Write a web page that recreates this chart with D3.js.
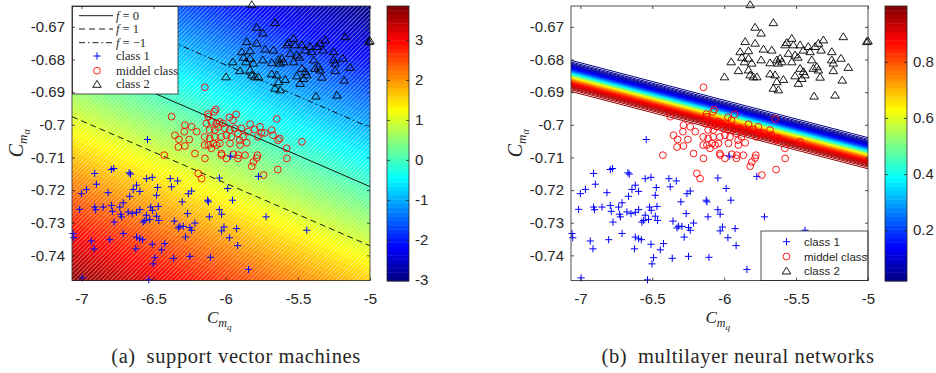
<!DOCTYPE html>
<html>
<head>
<meta charset="utf-8">
<script src="https://cdn.jsdelivr.net/npm/d3@7"></script>
<style>
body { margin: 0; background: #fff; }
svg text { font-family: "Liberation Sans", Arial, sans-serif; fill: #262626; }
.serif { font-family: "Liberation Serif", "Times New Roman", serif; }
.caption { font-family: "Liberation Serif", "Times New Roman", serif; letter-spacing: 0.6px; }
</style>
</head>
<body>
<svg id="fig" width="936" height="373"></svg>
<script>
// ---- data (C_mq, C_malpha) ----
var class1 = [
  [-6.542,-0.7045],[-6.908,-0.7149],[-6.896,-0.7182],[-6.792,-0.7137],[-6.776,-0.7134],[-6.669,-0.7147],[-6.660,-0.7151],[-7.000,-0.7211],[-6.965,-0.7198],[-6.815,-0.7208],
  [-7.012,-0.7259],[-6.908,-0.7252],[-6.901,-0.7260],[-6.849,-0.7252],[-6.792,-0.7247],[-6.785,-0.7265],[-6.773,-0.7298],[-6.734,-0.7252],[-6.710,-0.7239],[-6.727,-0.7274],
  [-6.722,-0.7282],[-6.676,-0.7267],[-6.648,-0.7272],[-6.618,-0.7268],[-6.595,-0.7260],[-6.665,-0.7219],[-6.641,-0.7198],[-6.618,-0.7185],[-6.595,-0.7204],[-6.549,-0.7165],
  [-6.509,-0.7161],[-6.472,-0.7192],[-6.479,-0.7216],[-6.467,-0.7250],[-6.519,-0.7252],[-6.507,-0.7262],[-6.549,-0.7277],[-6.526,-0.7290],[-6.560,-0.7293],[-6.572,-0.7298],
  [-6.479,-0.7280],[-6.463,-0.7293],[-6.384,-0.7165],[-6.333,-0.7172],[-6.375,-0.7190],[-6.301,-0.7236],[-6.259,-0.7211],[-6.236,-0.7203],[-6.264,-0.7272],[-6.356,-0.7295],
  [-6.328,-0.7316],[-6.317,-0.7311],[-6.294,-0.7311],[-6.248,-0.7315],[-6.236,-0.7323],[-6.213,-0.7301],[-6.278,-0.7344],[-6.125,-0.7231],[-6.120,-0.7236],[-6.113,-0.7282],
  [-6.044,-0.7163],[-6.044,-0.7260],[-7.058,-0.7333],[-7.053,-0.7346],[-6.931,-0.7356],[-6.912,-0.7380],[-6.803,-0.7352],[-6.710,-0.7333],[-6.618,-0.7344],[-6.595,-0.7349],
  [-6.576,-0.7352],[-6.623,-0.7380],[-6.509,-0.7366],[-6.422,-0.7364],[-6.444,-0.7383],[-6.491,-0.7407],[-6.502,-0.7426],[-6.361,-0.7409],[-6.248,-0.7403],[-6.106,-0.7406],
  [-6.995,-0.7469],[-6.533,-0.7475],[-5.965,-0.7096],[-5.773,-0.7158],[-5.986,-0.7195],[-5.953,-0.7231],[-6.028,-0.7274],[-5.720,-0.7282],[-6.012,-0.7313],[-6.028,-0.7325],
  [-5.924,-0.7318],[-5.974,-0.7346],[-5.917,-0.7370],[-5.842,-0.7443],[-5.438,-0.7323]
];
var middelClass = [
  [-6.144,-0.6885],[-6.375,-0.6975],[-6.069,-0.6953],[-6.078,-0.6960],[-5.928,-0.6968],[-5.974,-0.6977],[-5.646,-0.6982],[-5.831,-0.6998],[-5.762,-0.7006],[-5.681,-0.7016],
  [-5.472,-0.7052],[-6.028,-0.7093],[-5.947,-0.7090],[-5.912,-0.7093],[-5.866,-0.7093],[-5.780,-0.7093],[-5.785,-0.7102],[-5.808,-0.7114],[-5.819,-0.7127],[-5.738,-0.7154],
  [-5.639,-0.7137],[-5.576,-0.7103],[-6.040,-0.7057],[-5.970,-0.7057],[-5.901,-0.7062],[-5.854,-0.7055],[-6.426,-0.7093],[-6.328,-0.7068],[-6.283,-0.7065],[-6.213,-0.7088],
  [-6.144,-0.7103],[-6.190,-0.7149],[-6.167,-0.7165],[-6.120,-0.7062],[-6.085,-0.7057],[-6.352,-0.7032],[-6.324,-0.7045],[-6.287,-0.7021],[-6.252,-0.7045],[-6.201,-0.7021],
  [-6.283,-0.7001],[-6.236,-0.7006],[-6.120,-0.6975],[-6.123,-0.6967],[-6.134,-0.6996],[-6.099,-0.6991],[-6.065,-0.6996],[-6.042,-0.6991],[-6.019,-0.6996],[-5.949,-0.6986],
  [-6.111,-0.7016],[-6.076,-0.7016],[-6.053,-0.7006],[-6.007,-0.7011],[-5.972,-0.7016],[-5.938,-0.7011],[-5.891,-0.7011],[-5.845,-0.7021],[-5.799,-0.7014],[-5.752,-0.7025],
  [-5.729,-0.7025],[-5.672,-0.7032],[-5.637,-0.7047],[-5.625,-0.7042],[-6.146,-0.7037],[-6.111,-0.7042],[-6.076,-0.7037],[-6.030,-0.7037],[-5.995,-0.7032],[-5.960,-0.7037],
  [-5.915,-0.7026],[-5.880,-0.7037],[-5.776,-0.7037],[-6.146,-0.7062],[-6.099,-0.7072],[-5.903,-0.7047],[-6.030,-0.7088],[-5.995,-0.7103],[-5.915,-0.7103],[-5.578,-0.7072],
  [-6.063,-0.7062]
];
var class2 = [
  [-5.819,-0.6632],[-5.785,-0.6701],[-5.658,-0.6687],[-5.743,-0.6719],[-5.854,-0.6745],[-5.785,-0.6750],[-5.889,-0.6776],[-5.831,-0.6773],[-5.727,-0.6768],[-5.669,-0.6771],
  [-5.877,-0.6793],[-5.831,-0.6796],[-5.808,-0.6811],[-5.951,-0.6807],[-5.859,-0.6807],[-5.743,-0.6801],[-5.681,-0.6810],[-5.634,-0.6801],[-5.611,-0.6796],[-5.599,-0.6807],
  [-5.623,-0.6811],[-5.901,-0.6834],[-5.831,-0.6832],[-5.819,-0.6847],[-5.797,-0.6853],[-5.773,-0.6853],[-5.998,-0.6853],[-5.681,-0.6844],[-5.646,-0.6847],[-5.634,-0.6868],
  [-5.658,-0.6888],[-5.623,-0.6893],[-5.588,-0.6861],[-5.576,-0.6755],[-5.565,-0.6748],[-5.530,-0.6735],[-5.519,-0.6755],[-5.553,-0.6781],[-5.530,-0.6807],[-5.507,-0.6786],
  [-5.488,-0.6793],[-5.472,-0.6755],[-5.449,-0.6771],[-5.472,-0.6827],[-5.449,-0.6837],[-5.438,-0.6847],[-5.460,-0.6858],[-5.507,-0.6850],[-5.484,-0.6873],[-5.415,-0.6760],
  [-5.403,-0.6776],[-5.391,-0.6801],[-5.368,-0.6760],[-5.345,-0.6750],[-5.326,-0.6771],[-5.310,-0.6740],[-5.380,-0.6827],[-5.356,-0.6822],[-5.345,-0.6832],[-5.333,-0.6854],
  [-5.375,-0.6912],[-5.252,-0.6776],[-5.252,-0.6801],[-5.241,-0.6811],[-5.188,-0.6796],[-5.241,-0.6834],[-5.229,-0.6909],[-5.172,-0.6730],[-5.137,-0.6824],[-5.179,-0.6863],
  [-5.009,-0.6745],[-5.000,-0.6743]
];

var xDomain = [-7.065, -5];
var yDomain = [-0.7477, -0.6636];
var xTicks = [-7, -6.5, -6, -5.5, -5];
var yTicks = [-0.67, -0.68, -0.69, -0.7, -0.71, -0.72, -0.73, -0.74];

// svm decision function f = (yRef(x) - y) / margin, lines at f = 0, 1, -1
var svmRef = { x: -6.25, y: -0.695, slope: -0.01915, margin: 0.01811 };
var svmLines = [0, 1, -1];
var svmLineLabels = ["= 0", "= 1", "= \u22121"];
var svmCbRange = [-3.03, 3.85];
var svmCbTicks = [-3, -2, -1, 0, 1, 2, 3];

// mlp output = sigmoid(gain * (yRef(x) - y))
var mlpRef = { x: -7.0625, y: -0.68504, slope: -0.01147, gain: 817 };
var mlpLevels = d3.range(2, 99).map(function(d) { return d / 100; });
var mlpCbRange = [0.018, 1.0];
var mlpCbTicks = [0.2, 0.4, 0.6, 0.8];

var classNames = ["class 1", "middel class", "class 2"];

function svmF(cx, cy) {
  return (svmRef.y + svmRef.slope * (cx - svmRef.x) - cy) / svmRef.margin;
}
function jet(t) {
  t = Math.max(0, Math.min(1, t));
  function c(v) { return Math.round(255 * Math.max(0, Math.min(1, v))); }
  return d3.rgb(c(1.5 - Math.abs(4 * t - 3)), c(1.5 - Math.abs(4 * t - 2)), c(1.5 - Math.abs(4 * t - 1))).toString();
}

var svg = d3.select("#fig");
var defs = svg.append("defs");

var hatch = defs.append("pattern")
    .attr("id", "hatch")
    .attr("patternUnits", "userSpaceOnUse")
    .attr("width", 3).attr("height", 3)
    .attr("patternTransform", "rotate(45)");
hatch.append("line")
    .attr("x1", 0.5).attr("y1", 0).attr("x2", 0.5).attr("y2", 3)
    .attr("stroke", "#fff").attr("stroke-width", 0.9).attr("stroke-opacity", 0.45);

var crossPath = "M-3.6,0H3.6M0,-3.6V3.6";
var triPath = "M0,-3.9L4.3,3L-4.3,3Z";

function makePanel(id, left, right) {
  var top = 6, bottom = 280.5;
  var p = {
    x: d3.scaleLinear().domain(xDomain).range([left, right]),
    y: d3.scaleLinear().domain(yDomain).range([bottom, top]),
    left: left, right: right, top: top, bottom: bottom
  };
  defs.append("clipPath").attr("id", "clip-" + id)
    .append("rect").attr("x", left).attr("y", top).attr("width", right - left).attr("height", bottom - top);
  p.g = svg.append("g");
  p.plot = p.g.append("g").attr("clip-path", "url(#clip-" + id + ")");
  return p;
}

function drawMarkers(p) {
  var m = p.g.append("g");
  m.selectAll(".mid").data(middelClass).enter().append("circle")
    .attr("cx", function(d) { return p.x(d[0]); })
    .attr("cy", function(d) { return p.y(d[1]); })
    .attr("r", 3.4)
    .attr("fill", "none").attr("stroke", "#ff0000").attr("stroke-width", 0.9);
  m.selectAll(".c1").data(class1).enter().append("path")
    .attr("d", crossPath)
    .attr("transform", function(d) { return "translate(" + p.x(d[0]) + "," + p.y(d[1]) + ")"; })
    .attr("fill", "none").attr("stroke", "#0000ff").attr("stroke-width", 1);
  m.selectAll(".c2").data(class2).enter().append("path")
    .attr("d", triPath)
    .attr("transform", function(d) { return "translate(" + p.x(d[0]) + "," + p.y(d[1]) + ")"; })
    .attr("fill", "none").attr("stroke", "#000").attr("stroke-width", 0.9);
}

function drawAxes(p) {
  var g = p.g;
  g.append("rect")
    .attr("x", p.left).attr("y", p.top)
    .attr("width", p.right - p.left).attr("height", p.bottom - p.top)
    .attr("fill", "none").attr("stroke", "#262626").attr("stroke-width", 0.8);

  g.append("g").attr("transform", "translate(0," + p.bottom + ")")
    .call(d3.axisBottom(p.x).tickValues(xTicks).tickSize(-3).tickPadding(13).tickFormat(function(d) { return String(d); }));
  g.append("g").attr("transform", "translate(0," + p.top + ")")
    .call(d3.axisTop(p.x).tickValues(xTicks).tickSize(-3).tickFormat(""));
  g.append("g").attr("transform", "translate(" + p.left + ",0)")
    .call(d3.axisLeft(p.y).tickValues(yTicks).tickSize(-3).tickPadding(7).tickFormat(function(d) { return String(d); }));
  g.append("g").attr("transform", "translate(" + p.right + ",0)")
    .call(d3.axisRight(p.y).tickValues(yTicks).tickSize(-3).tickFormat(""));
  g.selectAll(".domain").remove();
  g.selectAll(".tick line").attr("stroke", "#262626").attr("stroke-width", 0.8);
  g.selectAll(".tick text").attr("font-size", 15).attr("font-family", "Liberation Sans, Arial, sans-serif").attr("fill", "#262626");

  // axis labels C_{m_q} and C_{m_alpha}
  var cx = (p.left + p.right) / 2;
  var xl = g.append("text").attr("class", "serif")
    .attr("x", cx - 14).attr("y", 323)
    .attr("fill", "#555").attr("font-style", "italic").attr("font-size", 17);
  xl.append("tspan").text("C");
  xl.append("tspan").attr("dy", 4).attr("font-size", 12).text("m");
  xl.append("tspan").attr("dy", 3).attr("font-size", 9).text("q");

  var yl = g.append("text").attr("class", "serif")
    .attr("transform", "translate(" + (p.left - 49) + "," + ((p.top + p.bottom) / 2 + 14) + ") rotate(-90)")
    .attr("fill", "#555").attr("font-style", "italic").attr("font-size", 20);
  yl.append("tspan").text("C");
  yl.append("tspan").attr("dy", 4).attr("font-size", 13).text("m");
  yl.append("tspan").attr("dy", 3).attr("font-size", 10).text("\u03b1");
}

function drawColorbar(left, range, ticks) {
  var top = 6, bottom = 281, w = 22;
  var cy = d3.scaleLinear().domain(range).range([bottom, top]);
  var steps = d3.range(64);
  var g = svg.append("g");
  g.selectAll("rect.cb").data(steps).enter().append("rect")
    .attr("x", left)
    .attr("y", function(i) { return cy(range[0] + (i + 1) * (range[1] - range[0]) / 64); })
    .attr("width", w)
    .attr("height", (bottom - top) / 64 + 0.4)
    .attr("fill", function(i) { return jet((i + 0.5) / 64); });
  g.append("rect").attr("x", left).attr("y", top).attr("width", w).attr("height", bottom - top)
    .attr("fill", "none").attr("stroke", "#262626").attr("stroke-width", 0.8);
  var a = g.append("g").attr("transform", "translate(" + (left + w) + ",0)")
    .call(d3.axisRight(cy).tickValues(ticks).tickSize(-3).tickPadding(6).tickFormat(function(d) { return String(d); }));
  a.select(".domain").remove();
  a.selectAll(".tick line").attr("stroke", "#262626").attr("stroke-width", 0.8);
  a.selectAll(".tick text").attr("font-size", 15).attr("fill", "#262626");
  g.append("g").attr("transform", "translate(" + left + ",0)")
    .call(d3.axisLeft(cy).tickValues(ticks).tickSize(-3).tickFormat(""))
    .call(function(s) { s.select(".domain").remove(); s.selectAll(".tick line").attr("stroke", "#262626").attr("stroke-width", 0.8); });
}

// ---------------- (a) support vector machines ----------------
var pa = makePanel("a", 72, 370);

var nx = 120, ny = 110;
var gx = d3.scaleLinear().domain([0, nx - 1]).range(xDomain);
var gy = d3.scaleLinear().domain([0, ny - 1]).range([yDomain[1], yDomain[0]]);
var vals = new Array(nx * ny);
for (var j = 0; j < ny; j++) {
  for (var i = 0; i < nx; i++) {
    vals[j * nx + i] = svmF(gx(i), gy(j));
  }
}
var thr = d3.range(64).map(function(k) { return svmCbRange[0] + k * (svmCbRange[1] - svmCbRange[0]) / 64; });
var bands = d3.contours().size([nx, ny]).thresholds(thr)(vals);
var gridToPx = d3.geoTransform({
  point: function(px, py) { this.stream.point(pa.x(gx(px - 0.5)), pa.y(gy(py - 0.5))); }
});
pa.plot.append("rect").attr("x", pa.left).attr("y", pa.top)
  .attr("width", pa.right - pa.left).attr("height", pa.bottom - pa.top).attr("fill", jet(0));
pa.plot.selectAll("path.band").data(bands).enter().append("path")
  .attr("d", d3.geoPath(gridToPx))
  .attr("fill", function(d) { return jet((d.value - svmCbRange[0]) / (svmCbRange[1] - svmCbRange[0]) + 0.5 / 64); });
pa.plot.append("rect").attr("x", pa.left).attr("y", pa.top)
  .attr("width", pa.right - pa.left).attr("height", pa.bottom - pa.top).attr("fill", "url(#hatch)");

var dashes = { "0": null, "1": "6,4", "-1": "6,3,1.5,3" };
pa.plot.selectAll("line.svm").data(svmLines).enter().append("line")
  .attr("x1", pa.x(xDomain[0]))
  .attr("x2", pa.x(xDomain[1]))
  .attr("y1", function(f) { return pa.y(svmRef.y + svmRef.slope * (xDomain[0] - svmRef.x) - f * svmRef.margin); })
  .attr("y2", function(f) { return pa.y(svmRef.y + svmRef.slope * (xDomain[1] - svmRef.x) - f * svmRef.margin); })
  .attr("stroke", "#000").attr("stroke-width", 0.9)
  .attr("stroke-dasharray", function(f) { return dashes[String(f)]; });

drawMarkers(pa);

// legend (a)
var la = pa.g.append("g");
la.append("rect").attr("x", 72.5).attr("y", 6.5).attr("width", 105.5).attr("height", 87.5)
  .attr("fill", "#fff").attr("stroke", "#262626").attr("stroke-width", 0.8);
var rowsA = [15.7, 29, 42.7, 56, 70.7, 84.3];
svmLines.forEach(function(f, k) {
  la.append("line").attr("x1", 79).attr("x2", 113).attr("y1", rowsA[k]).attr("y2", rowsA[k])
    .attr("stroke", "#000").attr("stroke-width", 0.9).attr("stroke-dasharray", dashes[String(f)]);
  var t = la.append("text").attr("class", "serif").attr("x", 116).attr("y", rowsA[k] + 4)
    .attr("font-size", 12.5).attr("fill", "#222");
  t.append("tspan").attr("font-style", "italic").text("f");
  t.append("tspan").text(" " + svmLineLabels[k]);
});
la.append("path").attr("d", crossPath).attr("transform", "translate(97," + rowsA[3] + ")")
  .attr("fill", "none").attr("stroke", "#0000ff");
la.append("circle").attr("cx", 97).attr("cy", rowsA[4]).attr("r", 3.4)
  .attr("fill", "none").attr("stroke", "#ff0000").attr("stroke-width", 0.9);
la.append("path").attr("d", triPath).attr("transform", "translate(97," + rowsA[5] + ")")
  .attr("fill", "none").attr("stroke", "#000").attr("stroke-width", 0.9);
classNames.forEach(function(n, k) {
  la.append("text").attr("class", "serif").attr("x", 116).attr("y", rowsA[k + 3] + 4)
    .attr("font-size", 12.5).attr("fill", "#222").text(n);
});

drawAxes(pa);
drawColorbar(387, svmCbRange, svmCbTicks);

svg.append("text").attr("class", "caption").attr("x", 236).attr("y", 363)
  .attr("text-anchor", "middle").attr("font-size", 20.5).attr("fill", "#111")
  .text("(a)\u2002support vector machines");

// ---------------- (b) multilayer neural networks ----------------
var pb = makePanel("b", 571, 868);
var logit = function(L) { return Math.log(L / (1 - L)); };
var mlpLine = function(L, cx) { return mlpRef.y + mlpRef.slope * (cx - mlpRef.x) - logit(L) / mlpRef.gain; };
pb.plot.append("rect").attr("x", pb.left).attr("y", pb.top)
  .attr("width", pb.right - pb.left).attr("height", pb.bottom - pb.top).attr("fill", "#fff");
pb.plot.selectAll("line.lvl").data(mlpLevels).enter().append("line")
  .attr("x1", pb.x(xDomain[0]))
  .attr("x2", pb.x(xDomain[1]))
  .attr("y1", function(L) { return pb.y(mlpLine(L, xDomain[0])); })
  .attr("y2", function(L) { return pb.y(mlpLine(L, xDomain[1])); })
  .attr("stroke", function(L) { return jet((L - mlpCbRange[0]) / (mlpCbRange[1] - mlpCbRange[0])); })
  .attr("stroke-width", 1);

drawMarkers(pb);

// legend (b)
var lb = pb.g.append("g");
lb.append("rect").attr("x", 761).attr("y", 231).attr("width", 107).attr("height", 49.5)
  .attr("fill", "#fff").attr("stroke", "#262626").attr("stroke-width", 0.8);
var rowsB = [241.7, 256.5, 271];
lb.append("path").attr("d", crossPath).attr("transform", "translate(786.5," + rowsB[0] + ")")
  .attr("fill", "none").attr("stroke", "#0000ff");
lb.append("circle").attr("cx", 786.5).attr("cy", rowsB[1]).attr("r", 3.4)
  .attr("fill", "none").attr("stroke", "#ff0000").attr("stroke-width", 0.9);
lb.append("path").attr("d", triPath).attr("transform", "translate(786.5," + rowsB[2] + ")")
  .attr("fill", "none").attr("stroke", "#000").attr("stroke-width", 0.9);
classNames.forEach(function(n, k) {
  lb.append("text").attr("x", 804).attr("y", rowsB[k] + 4)
    .attr("font-size", 11.5).attr("fill", "#111").text(n);
});

drawAxes(pb);
drawColorbar(885, mlpCbRange, mlpCbTicks);

svg.append("text").attr("class", "caption").attr("x", 738).attr("y", 363)
  .attr("text-anchor", "middle").attr("font-size", 20.5).attr("fill", "#111")
  .text("(b)\u2002multilayer neural networks");
</script>
</body>
</html>
